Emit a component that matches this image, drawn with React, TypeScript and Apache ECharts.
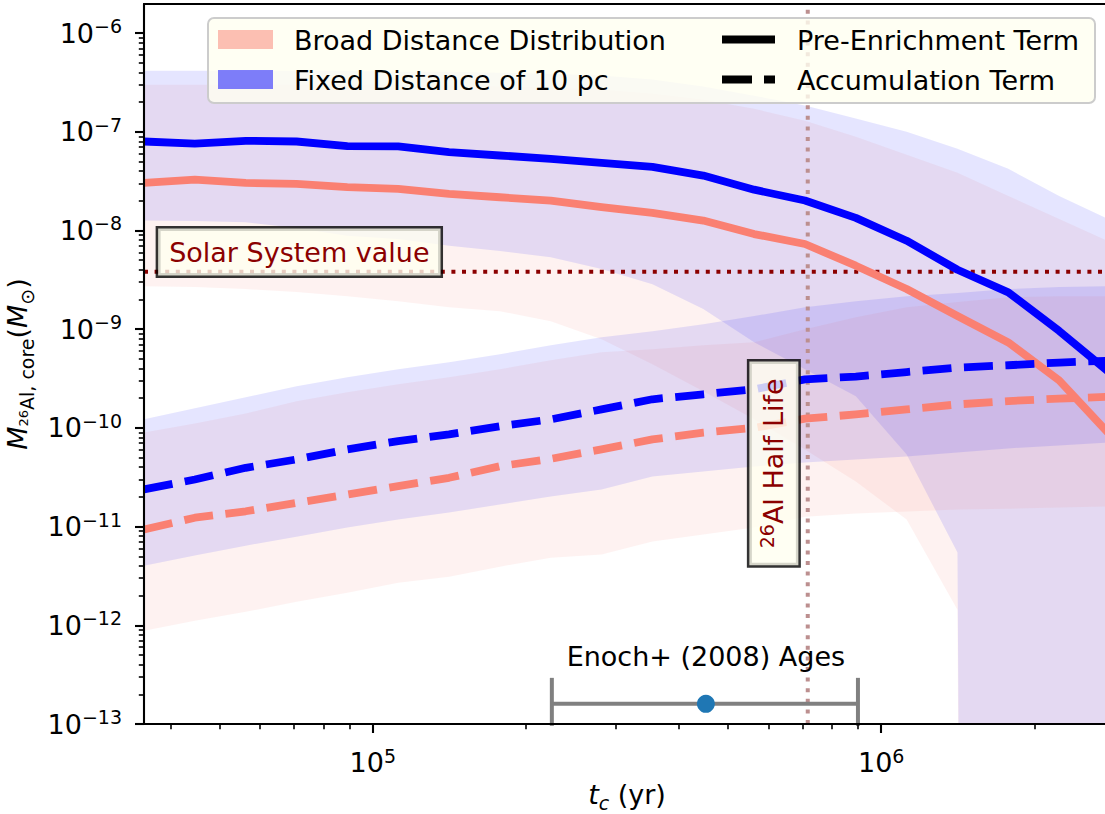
import React, { useEffect, useRef } from 'react';
import * as echarts from 'echarts';

// ---------------- data ----------------
const tC = [35481, 44668, 56234, 70795, 89125, 112202, 141254, 177828, 223872, 281838, 354813, 446684, 562341, 707946, 891251, 1122018, 1412538, 1778279, 2238721, 2818383];

// median curves
const preFixed = [7.97e-8, 7.6e-8, 8.1e-8, 7.97e-8, 7.16e-8, 7.1e-8, 6.22e-8, 5.75e-8, 5.32e-8, 4.85e-8, 4.41e-8, 3.6e-8, 2.59e-8, 2.01e-8, 1.34e-8, 7.88e-9, 4.0e-9, 2.36e-9, 9.6e-10, 3.6e-10];
const preBroad = [3.03e-8, 3.28e-8, 3.03e-8, 2.96e-8, 2.75e-8, 2.64e-8, 2.35e-8, 2.17e-8, 2.01e-8, 1.72e-8, 1.51e-8, 1.26e-8, 9.2e-9, 7.29e-9, 4.4e-9, 2.55e-9, 1.36e-9, 7.33e-10, 3.03e-10, 8.5e-11];
const accFixed = [2.38e-11, 3.0e-11, 3.94e-11, 4.79e-11, 6.05e-11, 7.35e-11, 8.6e-11, 1.04e-10, 1.22e-10, 1.54e-10, 1.95e-10, 2.19e-10, 2.46e-10, 3.1e-10, 3.31e-10, 3.68e-10, 4.08e-10, 4.31e-10, 4.59e-10, 4.8e-10];
const accBroad = [9.33e-12, 1.23e-11, 1.43e-11, 1.74e-11, 2.11e-11, 2.57e-11, 3.12e-11, 4.09e-11, 4.86e-11, 6.05e-11, 7.64e-11, 8.94e-11, 1.0e-10, 1.24e-10, 1.37e-10, 1.54e-10, 1.73e-10, 1.87e-10, 1.98e-10, 2.07e-10];

// shaded ranges (0 = no lower bound)
const preFixedHi = [4.16e-7, 4.16e-7, 4.16e-7, 4.16e-7, 4.16e-7, 4.06e-7, 4.06e-7, 3.97e-7, 3.88e-7, 3.71e-7, 3.38e-7, 2.87e-7, 2.32e-7, 1.85e-7, 1.36e-7, 1.0e-7, 6.72e-8, 4.21e-8, 2.24e-8, 1.28e-8];
const preFixedLo = [1.26e-8, 1.25e-8, 1.21e-8, 1.06e-8, 8.85e-9, 8.2e-9, 7.01e-9, 6.19e-9, 5.35e-9, 4.07e-9, 2.86e-9, 1.6e-9, 7.38e-10, 3.93e-10, 2.09e-10, 5.38e-11, 5.45e-12, 0, 0, 0];
const preBroadHi = [3.0e-7, 3.0e-7, 3.0e-7, 3.0e-7, 3.0e-7, 3.0e-7, 2.93e-7, 2.87e-7, 2.8e-7, 2.67e-7, 2.43e-7, 2.11e-7, 1.71e-7, 1.29e-7, 8.9e-8, 5.84e-8, 3.84e-8, 2.24e-8, 1.31e-8, 7.64e-9];
const preBroadLo = [2.73e-9, 2.67e-9, 2.55e-9, 2.38e-9, 2.16e-9, 1.92e-9, 1.67e-9, 1.52e-9, 1.2e-9, 7.92e-10, 4.41e-10, 2.35e-10, 1.22e-10, 6.05e-11, 2.86e-11, 1.18e-11, 1.44e-12, 0, 0, 0];
const accFixedHi = [1.22e-10, 1.58e-10, 2.04e-10, 2.64e-10, 3.26e-10, 3.93e-10, 4.62e-10, 5.57e-10, 6.89e-10, 8.3e-10, 9.55e-10, 1.12e-9, 1.36e-9, 1.67e-9, 1.92e-9, 2.16e-9, 2.32e-9, 2.55e-9, 2.67e-9, 2.73e-9];
const accFixedLo = [4.02e-12, 5.08e-12, 6.41e-12, 7.91e-12, 9.77e-12, 1.18e-11, 1.39e-11, 1.67e-11, 2.02e-11, 2.38e-11, 3.22e-11, 3.62e-11, 4.07e-11, 4.47e-11, 4.79e-11, 5.14e-11, 5.64e-11, 6.2e-11, 6.64e-11, 7.13e-11];
const accBroadHi = [9.0e-11, 1.11e-10, 1.4e-10, 1.86e-10, 2.29e-10, 2.77e-10, 3.26e-10, 3.93e-10, 4.84e-10, 5.84e-10, 6.26e-10, 6.89e-10, 7.38e-10, 1.0e-9, 1.32e-9, 1.67e-9, 1.88e-9, 2.11e-9, 2.16e-9, 2.16e-9];
const accBroadLo = [8.79e-13, 1.11e-12, 1.37e-12, 1.73e-12, 2.14e-12, 2.7e-12, 3.11e-12, 3.93e-12, 4.84e-12, 5.2e-12, 7.05e-12, 8.3e-12, 9.77e-12, 1.26e-11, 1.36e-11, 1.42e-11, 1.49e-11, 1.52e-11, 1.56e-11, 1.6e-11];

// reference values
const solarValue = 3.82e-9;
const halfLife = 7.17e5;
const enochAge = 4.52e5;
const enochLo = 2.25e5;
const enochHi = 9.0e5;
const enochY = 1.6e-13;
const solarLabelAt = [7.17e4, 6.05e-9];
const halfLifeLabelAt = [6.15e5, 4.37e-11];

// ticks
const xTickValues = [1e5, 1e6];
const xTickExponents = ['5', '6'];
const yTickValues = [1e-13, 1e-12, 1e-11, 1e-10, 1e-9, 1e-8, 1e-7, 1e-6];
const yTickExponents = ['−13', '−12', '−11', '−10', '−9', '−8', '−7', '−6'];
const xMinorTicks = [4e4, 5e4, 6e4, 7e4, 8e4, 9e4, 2e5, 3e5, 4e5, 5e5, 6e5, 7e5, 8e5, 9e5, 2e6];
const minorMantissas = [2, 3, 4, 5, 6, 7, 8, 9];
const yMinorDecades = [-13, -12, -11, -10, -9, -8, -7];

const legendPatchLabels = ['Broad Distance Distribution', 'Fixed Distance of 10 pc'];
const legendLineLabels = ['Pre-Enrichment Term', 'Accumulation Term'];

// ---------------- style ----------------
const FONT = "'DejaVu Sans', sans-serif";
const FS = 27;
const FS_SMALL = 19;
const SALMON = '#fa8072';
const BLUE = '#0000ff';
const DARKRED = '#8b0000';
const BOX_FILL = 'rgba(255,255,240,0.8)';
const BOX_EDGE = 'rgba(0,0,0,0.8)';
const LW = 7.8;
const Y_MIN = 1e-13;
const Y_MAX = 1.97e-6;
const LOG_FLOOR = 1e-100;

const yMinorTicks: number[] = [];
yMinorDecades.forEach((e) => minorMantissas.forEach((m) => yMinorTicks.push(Number((m * Math.pow(10, e)).toPrecision(3)))));

const tickRich = {
  b: { fontSize: FS, lineHeight: FS, fontFamily: FONT, color: '#000', verticalAlign: 'bottom' },
  s: { fontSize: FS_SMALL, lineHeight: FS_SMALL, fontFamily: FONT, color: '#000', verticalAlign: 'bottom', padding: [0, 0, 11, 0] },
};

function tickFormatter(values: number[], exps: string[]) {
  return (v: number) => {
    const i = values.findIndex((t) => Math.abs(Math.log10(t) - Math.log10(v)) < 1e-6);
    return i >= 0 ? `{b|10}{s|${exps[i]}}` : '';
  };
}

function band(name: string, lo: number[], hi: number[], color: string) {
  return {
    type: 'custom',
    name,
    coordinateSystem: 'cartesian2d',
    xAxisIndex: 0,
    yAxisIndex: 0,
    silent: true,
    clip: true,
    z: 1,
    data: [[tC[0], hi[0]]],
    renderItem: (_p: any, api: any) => {
      const pts: number[][] = [];
      for (let i = 0; i < tC.length; i++) pts.push(api.coord([tC[i], hi[i]]));
      for (let i = tC.length - 1; i >= 0; i--) pts.push(api.coord([tC[i], lo[i] > 0 ? lo[i] : LOG_FLOOR]));
      return { type: 'polygon', shape: { points: pts }, style: { fill: color } };
    },
  };
}

function curve(name: string, values: number[], color: string, dashed: boolean) {
  return {
    type: 'line',
    name,
    xAxisIndex: 0,
    yAxisIndex: 0,
    data: tC.map((t, i) => [t, values[i]]),
    showSymbol: false,
    symbol: 'none',
    silent: true,
    z: 3,
    lineStyle: { color, width: LW, type: dashed ? [29, 12.5] : 'solid', cap: 'butt', join: 'round' },
  };
}

function buildOption() {
  const xMin = tC[0];
  const xMax = tC[tC.length - 1];
  const axisLineStyle = { color: '#000', width: 2.1 };
  const nameRich = {
    i: { fontSize: FS, lineHeight: FS, fontStyle: 'italic', fontFamily: FONT, color: '#000', verticalAlign: 'bottom', padding: [0, 0, 5, 0] },
    n: { fontSize: FS, lineHeight: FS, fontFamily: FONT, color: '#000', verticalAlign: 'bottom', padding: [0, 0, 5, 0] },
    sub: { fontSize: FS_SMALL, lineHeight: FS_SMALL, fontFamily: FONT, color: '#000', verticalAlign: 'bottom' },
    isub: { fontSize: FS_SMALL, lineHeight: FS_SMALL, fontStyle: 'italic', fontFamily: FONT, color: '#000', verticalAlign: 'bottom' },
    ss: { fontSize: 13, lineHeight: 13, fontFamily: FONT, color: '#000', verticalAlign: 'bottom', padding: [0, 0, 6, 0] },
  };
  return {
    animation: false,
    textStyle: { fontFamily: FONT },
    grid: { left: 144, right: -5, top: 4, bottom: 90, containLabel: false, outerBoundsMode: 'none' },
    xAxis: [
      {
        type: 'log', position: 'bottom', min: xMin, max: xMax, z: 10,
        axisLine: { show: true, onZero: false, lineStyle: axisLineStyle },
        axisTick: { show: true, length: 9, customValues: xTickValues, lineStyle: axisLineStyle },
        axisLabel: { customValues: xTickValues, formatter: tickFormatter(xTickValues, xTickExponents), margin: 25, rich: tickRich },
        splitLine: { show: false },
        name: '{i|t}{isub|c}{n| (yr)}',
        nameLocation: 'middle',
        nameGap: 57,
        nameTextStyle: { rich: nameRich },
      },
      {
        type: 'log', position: 'bottom', min: xMin, max: xMax, z: 10,
        axisLine: { show: false },
        axisTick: { show: true, length: 5.2, customValues: xMinorTicks, lineStyle: { color: '#000', width: 1.6 } },
        axisLabel: { show: false },
        splitLine: { show: false },
      },
      {
        type: 'log', position: 'top', min: xMin, max: xMax, z: 10,
        axisLine: { show: true, onZero: false, lineStyle: axisLineStyle },
        axisTick: { show: false },
        axisLabel: { show: false },
        splitLine: { show: false },
      },
    ],
    yAxis: [
      {
        type: 'log', position: 'left', min: Y_MIN, max: Y_MAX, z: 10,
        axisLine: { show: true, onZero: false, lineStyle: axisLineStyle },
        axisTick: { show: true, length: 9, customValues: yTickValues, lineStyle: axisLineStyle },
        axisLabel: { customValues: yTickValues, formatter: tickFormatter(yTickValues, yTickExponents), margin: 22, rich: tickRich },
        splitLine: { show: false },
        name: '{i|M}{ss|26}{sub|Al, core}{n|(}{i|M}{sub|⊙}{n|)}',
        nameLocation: 'middle',
        nameRotate: 90,
        nameGap: 108,
        nameTextStyle: { rich: nameRich },
      },
      {
        type: 'log', position: 'left', min: Y_MIN, max: Y_MAX, z: 10,
        axisLine: { show: false },
        axisTick: { show: true, length: 5.2, customValues: yMinorTicks, lineStyle: { color: '#000', width: 1.6 } },
        axisLabel: { show: false },
        splitLine: { show: false },
      },
    ],
    series: [
      band('Broad pre range', preBroadLo, preBroadHi, 'rgba(250,128,114,0.1)'),
      band('Fixed pre range', preFixedLo, preFixedHi, 'rgba(0,0,255,0.1)'),
      band('Broad acc range', accBroadLo, accBroadHi, 'rgba(250,128,114,0.1)'),
      band('Fixed acc range', accFixedLo, accFixedHi, 'rgba(0,0,255,0.1)'),
      {
        type: 'line', name: 'Solar System value', xAxisIndex: 0, yAxisIndex: 0, z: 2, silent: true,
        data: [[xMin, solarValue], [xMax, solarValue]],
        showSymbol: false, symbol: 'none',
        lineStyle: { color: DARKRED, width: 4, type: [4, 6.6], cap: 'butt' },
      },
      {
        type: 'line', name: '26Al half life', xAxisIndex: 0, yAxisIndex: 0, z: 2, silent: true,
        data: [[halfLife, Y_MIN], [halfLife, Y_MAX]],
        showSymbol: false, symbol: 'none',
        lineStyle: { color: '#bc8f8f', width: 4, type: [4, 6.6], cap: 'butt' },
      },
      curve('Broad pre-enrichment', preBroad, SALMON, false),
      curve('Fixed pre-enrichment', preFixed, BLUE, false),
      curve('Broad accumulation', accBroad, SALMON, true),
      curve('Fixed accumulation', accFixed, BLUE, true),
      {
        type: 'custom', name: 'solar label', coordinateSystem: 'cartesian2d', xAxisIndex: 0, yAxisIndex: 0,
        silent: true, clip: false, z: 5,
        data: [solarLabelAt],
        renderItem: (_p: any, api: any) => {
          const c = api.coord([api.value(0), api.value(1)]);
          return {
            type: 'text', x: c[0], y: c[1],
            style: {
              text: 'Solar System value', align: 'center', verticalAlign: 'middle', fill: DARKRED,
              fontSize: FS, fontFamily: FONT, backgroundColor: BOX_FILL, borderColor: BOX_EDGE, borderWidth: 2.5,
              padding: [10, 11],
            },
          };
        },
      },
      {
        type: 'custom', name: 'half life label', coordinateSystem: 'cartesian2d', xAxisIndex: 0, yAxisIndex: 0,
        silent: true, clip: false, z: 5,
        data: [halfLifeLabelAt],
        renderItem: (_p: any, api: any) => {
          const c = api.coord([api.value(0), api.value(1)]);
          return {
            type: 'text', x: c[0], y: c[1], rotation: Math.PI / 2,
            style: {
              text: '{ss|26}{b|Al Half Life}', align: 'center', verticalAlign: 'middle',
              rich: {
                b: { fontSize: FS, lineHeight: FS, fontFamily: FONT, fill: DARKRED, verticalAlign: 'bottom' },
                ss: { fontSize: FS_SMALL, lineHeight: FS_SMALL, fontFamily: FONT, fill: DARKRED, verticalAlign: 'bottom', padding: [0, 0, 11, 0] },
              },
              backgroundColor: BOX_FILL, borderColor: BOX_EDGE, borderWidth: 2.5, padding: [11, 17],
            },
          };
        },
      },
      {
        type: 'custom', name: 'Enoch+ (2008) Ages', coordinateSystem: 'cartesian2d', xAxisIndex: 0, yAxisIndex: 0,
        silent: true, clip: false, z: 6,
        encode: { x: 0, y: 1 },
        data: [[enochAge, enochY, enochLo, enochHi]],
        renderItem: (_p: any, api: any) => {
          const c = api.coord([api.value(0), api.value(1)]);
          const lo = api.coord([api.value(2), api.value(1)]);
          const hi = api.coord([api.value(3), api.value(1)]);
          const st = { stroke: '#808080', lineWidth: 4 };
          return {
            type: 'group',
            children: [
              { type: 'line', shape: { x1: lo[0], y1: lo[1], x2: hi[0], y2: hi[1] }, style: st },
              { type: 'line', shape: { x1: lo[0], y1: lo[1] - 26, x2: lo[0], y2: lo[1] + 22 }, style: st },
              { type: 'line', shape: { x1: hi[0], y1: hi[1] - 26, x2: hi[0], y2: hi[1] + 22 }, style: st },
              {
                type: 'text', x: c[0], y: c[1] - 47,
                style: { text: 'Enoch+ (2008) Ages', align: 'center', verticalAlign: 'middle', fill: '#000', fontSize: FS, fontFamily: FONT },
              },
            ],
          };
        },
      },
      {
        type: 'scatter', name: 'Enoch age', xAxisIndex: 0, yAxisIndex: 0, silent: true, z: 7,
        data: [[enochAge, enochY]], symbol: 'circle', symbolSize: 18,
        itemStyle: { color: '#1f77b4', opacity: 1 },
      },
    ],
    graphic: {
      elements: [
        { type: 'rect', z: 100, shape: { x: 208, y: 18, width: 887, height: 85, r: 6 }, style: { fill: BOX_FILL, stroke: '#cccccc', lineWidth: 2 } },
        { type: 'rect', z: 101, shape: { x: 218, y: 30, width: 55, height: 19 }, style: { fill: 'rgba(250,128,114,0.5)' } },
        { type: 'rect', z: 101, shape: { x: 218, y: 70, width: 55, height: 19 }, style: { fill: 'rgba(0,0,255,0.5)' } },
        { type: 'text', z: 101, x: 294, y: 40, style: { text: legendPatchLabels[0], fontSize: FS, fontFamily: FONT, fill: '#000', verticalAlign: 'middle' } },
        { type: 'text', z: 101, x: 294, y: 80, style: { text: legendPatchLabels[1], fontSize: FS, fontFamily: FONT, fill: '#000', verticalAlign: 'middle' } },
        { type: 'line', z: 101, shape: { x1: 722, y1: 39.5, x2: 775, y2: 39.5 }, style: { stroke: '#000', lineWidth: LW } },
        { type: 'line', z: 101, shape: { x1: 722, y1: 79.5, x2: 775, y2: 79.5 }, style: { stroke: '#000', lineWidth: LW, lineDash: [30, 12] } },
        { type: 'text', z: 101, x: 797, y: 40, style: { text: legendLineLabels[0], fontSize: FS, fontFamily: FONT, fill: '#000', verticalAlign: 'middle' } },
        { type: 'text', z: 101, x: 797, y: 80, style: { text: legendLineLabels[1], fontSize: FS, fontFamily: FONT, fill: '#000', verticalAlign: 'middle' } },
      ],
    },
  };
}

export default function App() {
  const ref = useRef<HTMLDivElement>(null);
  useEffect(() => {
    const chart = echarts.init(ref.current as HTMLDivElement, null, { renderer: 'svg' });
    chart.setOption(buildOption() as any);
    return () => chart.dispose();
  }, []);
  return (
    <div
      ref={ref}
      style={{ position: 'absolute', left: 0, top: 0, width: 1105, height: 814, background: '#ffffff' }}
    />
  );
}
